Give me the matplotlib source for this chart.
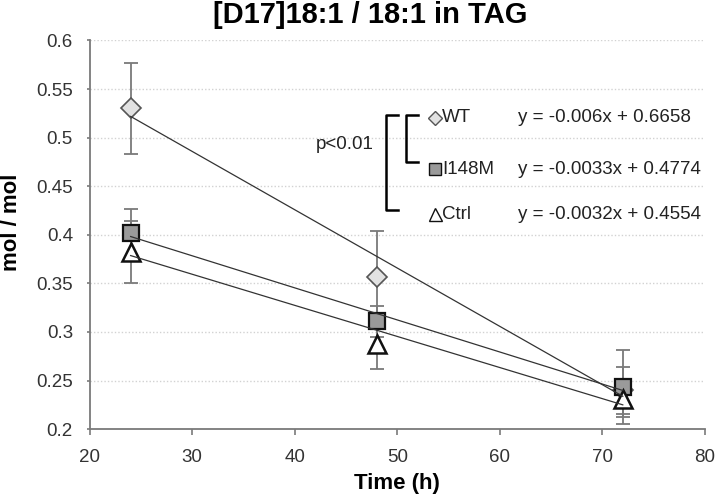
import numpy as np
import matplotlib
matplotlib.use("Agg")
import matplotlib.pyplot as plt

plt.rcParams["font.family"] = ["Liberation Sans", "DejaVu Sans"]

# ---- Data ----
time_h = [24, 48, 72]
groups = ["WT", "I148M", "Ctrl"]
wt_mean = [0.530, 0.357, 0.240]
wt_err = [0.047, 0.047, 0.024]
i148m_mean = [0.402, 0.311, 0.243]
i148m_err = [0.025, 0.016, 0.038]
ctrl_mean = [0.382, 0.288, 0.231]
ctrl_err = [0.032, 0.026, 0.018]
# trendline coefficients shown on the chart
slopes = [-0.006, -0.0033, -0.0032]
intercepts = [0.6658, 0.4774, 0.4554]
equations = ["y = -0.006x + 0.6658", "y = -0.0033x + 0.4774", "y = -0.0032x + 0.4554"]

y_ticks = [0.2, 0.25, 0.3, 0.35, 0.4, 0.45, 0.5, 0.55, 0.6]
x_ticks = [20, 30, 40, 50, 60, 70, 80]

styles = {
    "WT": dict(marker="D", ms=10.5, mfc="#e2e2e2", mec="#555555", mew=1.2),
    "I148M": dict(marker="s", ms=12, mfc="#9a9a9a", mec="#111111", mew=1.6),
    "Ctrl": dict(marker="^", ms=13, mfc="white", mec="#111111", mew=1.8),
}
means = {"WT": wt_mean, "I148M": i148m_mean, "Ctrl": ctrl_mean}
errs = {"WT": wt_err, "I148M": i148m_err, "Ctrl": ctrl_err}

fig = plt.figure(figsize=(7.17, 4.99), dpi=100)
ax = fig.add_axes([0.125, 0.14, 0.858, 0.779])

# error bars + markers
for g in ["Ctrl", "WT", "I148M"]:
    ax.errorbar(time_h, means[g], yerr=errs[g], fmt="none", ecolor="#7a7a7a",
                elinewidth=1.3, capsize=5, capthick=1.3, zorder=2)
for g in ["WT", "I148M", "Ctrl"]:
    ax.plot(time_h, means[g], ls="none", zorder=3, **styles[g])

# linear trendlines
xt = np.array([time_h[0], time_h[-1]])
for s, b in zip(slopes, intercepts):
    ax.plot(xt, s * xt + b, color="#333333", lw=0.9, zorder=4)

# legend-like annotation with equations
row_y = [0.5206, 0.4673, 0.4212]
for g, yy, eq in zip(groups, row_y, equations):
    st = dict(styles[g])
    st["ms"] = st["ms"] * 0.72
    st["mew"] = 1.0
    ax.plot([53.7], [yy], ls="none", clip_on=False, **st)
    ax.text(54.4, yy, g, ha="left", va="center", fontsize=13.5, color="#222222")
    ax.text(61.8, yy, eq, ha="left", va="center", fontsize=13.5, color="#222222")

# significance brackets
ax.plot([50.1, 48.9, 48.9, 50.1], [0.5237, 0.5237, 0.4253, 0.4253], color="black", lw=1.8)
ax.plot([52.0, 50.86, 50.86, 52.0], [0.5237, 0.5237, 0.4745, 0.4745], color="black", lw=1.8)
ax.text(47.7, 0.493, "p<0.01", ha="right", va="center", fontsize=13.5, color="#222222")

# axes styling
ax.set_xlim(20, 80)
ax.set_ylim(0.2, 0.6)
ax.set_xticks(x_ticks)
ax.set_yticks(y_ticks)
ax.set_yticklabels([f"{v:g}" for v in y_ticks])
ax.yaxis.grid(True, linestyle=(0, (1, 1.5)), color="#d2d2d2", lw=1.0)
ax.set_axisbelow(True)
for side in ["top", "right"]:
    ax.spines[side].set_visible(False)
for side in ["left", "bottom"]:
    ax.spines[side].set_color("#7a7a7a")
    ax.spines[side].set_linewidth(1.3)
ax.tick_params(axis="both", colors="#7a7a7a", labelcolor="#333333", labelsize=13.5,
               width=1.2, direction="out")
ax.tick_params(axis="y", length=2, pad=10)
ax.tick_params(axis="x", length=4, pad=10)

fig.text(397 / 717, 1 - 483 / 499, "Time (h)", ha="center", va="center",
         fontsize=16, fontweight="bold")
fig.text(12 / 717, 1 - 222 / 499, "mol / mol", ha="center", va="center",
         fontsize=16, fontweight="bold", rotation=90)
fig.text(213 / 717, 1 - 15 / 499, "[D17]18:1 / 18:1 in TAG", ha="left", va="center",
         fontsize=21, fontweight="bold")

fig.savefig("out.png", dpi=100)
